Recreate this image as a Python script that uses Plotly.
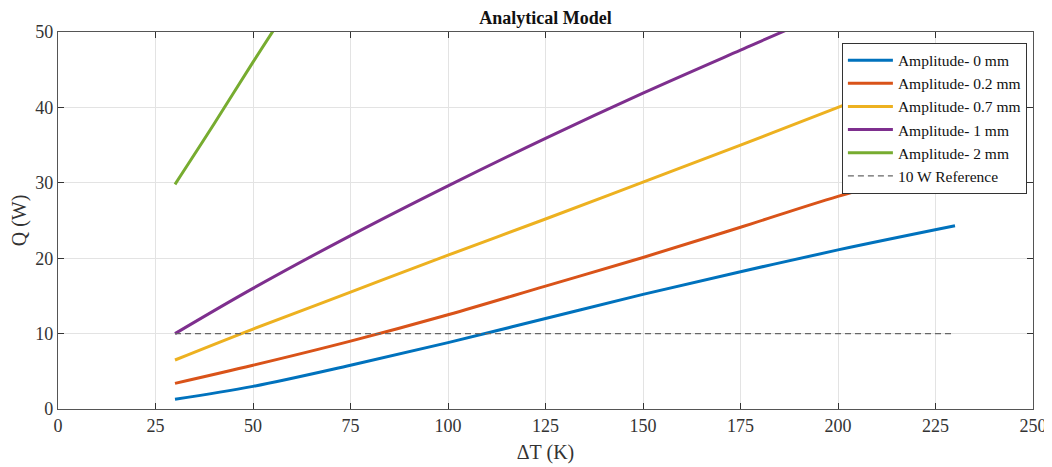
import plotly.graph_objects as go

dT = [30, 50, 75, 100, 125, 150, 175, 200, 230]
q_0mm = [1.3, 3.0, 5.8, 8.8, 12.0, 15.2, 18.2, 21.1, 24.3]
q_02mm = [3.4, 5.8, 9.0, 12.5, 16.3, 20.1, 24.1, 28.2, 32.5]
q_07mm = [6.5, 10.6, 15.5, 20.4, 25.2, 30.1, 35.0, 40.0, 46.0]
q_1mm = [10.0, 16.0, 23.0, 29.6, 35.9, 41.9, 47.6, 53.2, 59.6]
dT_2mm = [30, 40, 50, 60]
q_2mm = [29.8, 37.8, 46.0, 54.0]
ref_x = [30, 230]
ref_y = [10, 10]

names = ["Amplitude- 0 mm", "Amplitude- 0.2 mm", "Amplitude- 0.7 mm",
         "Amplitude- 1 mm", "Amplitude- 2 mm"]
colors = ["#0072BD", "#D95319", "#EDB120", "#7E2F8E", "#77AC30"]

fig = go.Figure()
series = [(dT, q_0mm), (dT, q_02mm), (dT, q_07mm), (dT, q_1mm), (dT_2mm, q_2mm)]
for (x, y), n, c in zip(series, names, colors):
    fig.add_trace(go.Scatter(x=x, y=y, mode="lines", name=n,
                             line=dict(color=c, width=3, shape="spline")))
fig.add_trace(go.Scatter(x=ref_x, y=ref_y, mode="lines", name="10 W Reference",
                         line=dict(color="#666666", width=1.2, dash="6px,4px")))

font = "Liberation Serif"
axis_common = dict(showgrid=True, gridcolor="#e3e3e3", gridwidth=1,
                   showline=True, linecolor="#555555", linewidth=1.2,
                   mirror="ticks", ticks="inside", ticklen=6, tickcolor="#333333",
                   zeroline=False, automargin=False,
                   tickfont=dict(family=font, size=18, color="#333333"))

fig.update_layout(
    width=1044, height=459,
    margin=dict(l=50, r=19, t=24, b=58),
    plot_bgcolor="white", paper_bgcolor="white",
    title=dict(text="<b>Analytical Model</b>", x=0.5, xanchor="center",
               xref="paper", y=0.978, yanchor="middle",
               font=dict(family=font, size=18, color="#111111")),
    xaxis=dict(range=[0, 250], tickvals=list(range(0, 251, 25)),
               title=dict(text="ΔT (K)", font=dict(family=font, size=20, color="#333333"), standoff=10),
               **axis_common),
    yaxis=dict(range=[0, 50], tickvals=list(range(0, 51, 10)),
               title=dict(text="Q (W)", font=dict(family=font, size=20, color="#333333"), standoff=3),
               **axis_common),
    legend=dict(x=0.804, y=0.972, xanchor="left", yanchor="top",
                bgcolor="white", bordercolor="#333333", borderwidth=1,
                font=dict(family=font, size=15.5, color="#111111"),
                tracegroupgap=0, itemwidth=45),
    showlegend=True,
)

fig.write_html("out.html")
